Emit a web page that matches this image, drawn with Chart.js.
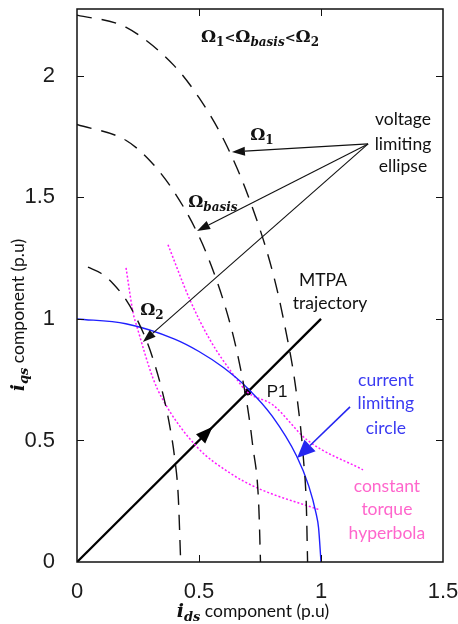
<!DOCTYPE html>
<html>
<head>
<meta charset="utf-8">
<script src="https://cdn.jsdelivr.net/npm/chart.js@4.4.1/dist/chart.umd.min.js"></script>
<style>
  html, body { margin: 0; padding: 0; background: #fff; }
  #wrap { width: 458px; height: 624px; }
</style>
</head>
<body>
<div id="wrap"><canvas id="chart" width="458" height="624"></canvas></div>
<script>
// voltage limiting ellipses, i_ds / i_qs in p.u (omega_1, omega_basis, omega_2)
const ellipse1Ids = [0, 0.2, 0.4, 0.5, 0.6, 0.7, 0.8, 0.85, 0.9, 0.93, 0.94, 0.945];
const ellipse1Iqs = [2.25, 2.2, 2.04, 1.91, 1.74, 1.51, 1.2, 0.98, 0.69, 0.4, 0.23, 0];
const ellipse2Ids = [0, 0.2, 0.3, 0.4, 0.5, 0.55, 0.6, 0.65, 0.7, 0.72, 0.745, 0.752];
const ellipse2Iqs = [1.8, 1.735, 1.65, 1.52, 1.34, 1.22, 1.075, 0.89, 0.63, 0.48, 0.23, 0];
const ellipse3Ids = [0.045, 0.1, 0.15, 0.2, 0.25, 0.3, 0.35, 0.38, 0.4, 0.415, 0.425];
const ellipse3Iqs = [1.213, 1.187, 1.143, 1.08, 0.99, 0.87, 0.7, 0.56, 0.43, 0.27, 0];

// current limiting circle
const circleIds = [0, 0.2, 0.4, 0.5, 0.6, 0.7, 0.8, 0.9, 0.95, 0.98, 0.99, 1.0];
const circleIqs = [1.0, 0.98, 0.917, 0.866, 0.8, 0.714, 0.6, 0.436, 0.312, 0.199, 0.141, 0];

// constant torque hyperbolas
const torqueHiIds = [0.373, 0.463, 0.545, 0.648, 0.697, 0.803, 0.943, 1.172];
const torqueHiIqs = [1.305, 1.078, 0.914, 0.761, 0.7, 0.646, 0.502, 0.379];
const torqueLoIds = [0.201, 0.23, 0.246, 0.311, 0.352, 0.492, 0.627, 0.738, 0.996];
const torqueLoIqs = [1.21, 1.025, 0.967, 0.757, 0.667, 0.473, 0.366, 0.305, 0.214];

// MTPA trajectory and operating point P1
const mtpaIds = [0, 1];
const mtpaIqs = [0, 1];
const p1Ids = [0.7];
const p1Iqs = [0.7];

const xTicks = [0, 0.5, 1, 1.5];
const yTicks = [0, 0.5, 1, 1.5, 2];

const toPoints = (xs, ys) => xs.map((x, i) => ({ x: x, y: ys[i] }));

const CALIBRI = 'Lato, "Open Sans", sans-serif';
const SERIF = '"DejaVu Serif", "Liberation Serif", serif';
const ARIAL = '"Liberation Sans", Arial, sans-serif';

function drawRuns(ctx, runs, cx, baseY, color) {
    ctx.save();
    ctx.fillStyle = color;
    ctx.textBaseline = 'alphabetic';
    ctx.textAlign = 'left';
    let total = 0;
    runs.forEach(r => { ctx.font = r.font; r.w = ctx.measureText(r.text).width; total += r.w; });
    let x = cx - total / 2;
    runs.forEach(r => {
        ctx.font = r.font;
        ctx.fillText(r.text, x, baseY + (r.dy || 0));
        x += r.w;
    });
    ctx.restore();
}

function label(ctx, text, cx, cy, font, color) {
    ctx.save();
    ctx.font = font;
    ctx.fillStyle = color;
    ctx.textAlign = 'center';
    ctx.textBaseline = 'middle';
    ctx.fillText(text, cx, cy);
    ctx.restore();
}

function arrow(ctx, x0, y0, x1, y1, color, width, headLen, headHalf) {
    const ang = Math.atan2(y1 - y0, x1 - x0);
    const bx = x1 - headLen * Math.cos(ang);
    const by = y1 - headLen * Math.sin(ang);
    ctx.save();
    ctx.strokeStyle = color;
    ctx.fillStyle = color;
    if (width > 0) {
        ctx.lineWidth = width;
        ctx.beginPath();
        ctx.moveTo(x0, y0);
        ctx.lineTo(bx, by);
        ctx.stroke();
    }
    ctx.beginPath();
    ctx.moveTo(x1, y1);
    ctx.lineTo(bx + headHalf * Math.sin(ang), by - headHalf * Math.cos(ang));
    ctx.lineTo(bx - headHalf * Math.sin(ang), by + headHalf * Math.cos(ang));
    ctx.closePath();
    ctx.fill();
    ctx.restore();
}

// frame with inward ticks on all four sides, plus the annotations
const decorations = {
    id: 'decorations',
    afterDatasetsDraw(chart) {
        const ctx = chart.ctx;
        const area = chart.chartArea;
        const sx = chart.scales.x;
        const sy = chart.scales.y;
        const px = v => sx.getPixelForValue(v);
        const py = v => sy.getPixelForValue(v);

        ctx.save();
        ctx.strokeStyle = '#111';
        ctx.lineWidth = 1.5;
        ctx.strokeRect(area.left, area.top, area.right - area.left, area.bottom - area.top);
        ctx.lineWidth = 1;
        ctx.beginPath();
        xTicks.slice(1, -1).forEach(v => {
            const x = Math.round(px(v)) + 0.5;
            ctx.moveTo(x, area.bottom); ctx.lineTo(x, area.bottom - 7);
            ctx.moveTo(x, area.top); ctx.lineTo(x, area.top + 7);
        });
        yTicks.slice(1).forEach(v => {
            const y = Math.round(py(v)) + 0.5;
            ctx.moveTo(area.left, y); ctx.lineTo(area.left + 7, y);
            ctx.moveTo(area.right, y); ctx.lineTo(area.right - 7, y);
        });
        ctx.stroke();
        ctx.restore();

        // MTPA direction arrow head
        arrow(ctx, px(0.45), py(0.45), px(0.556), py(0.556), '#000', 0, 17, 6.5);

        // voltage limiting ellipse pointers
        const src = [px(1.193), py(1.72)];
        arrow(ctx, src[0], src[1], px(0.635), py(1.687), '#111', 1.1, 13, 4.5);
        arrow(ctx, src[0], src[1], px(0.492), py(1.362), '#111', 1.1, 13, 4.5);
        arrow(ctx, src[0], src[1], px(0.27), py(0.905), '#111', 1.1, 13, 4.5);

        // current limiting circle pointer
        arrow(ctx, px(1.119), py(0.638), px(0.902), py(0.428), '#2626f0', 1.6, 18, 8);

        const ob = 'bold 17px ' + SERIF;
        const subB = 'bold 12px ' + SERIF;
        const subBI = 'italic bold 12px ' + SERIF;
        const lt = { text: '<', font: 'bold 13px ' + SERIF };
        drawRuns(ctx, [
            { text: 'Ω', font: ob }, { text: '1', font: subB, dy: 4 }, lt,
            { text: 'Ω', font: ob }, { text: 'basis', font: subBI, dy: 4 }, lt,
            { text: 'Ω', font: ob }, { text: '2', font: subB, dy: 4 }
        ], px(0.75), py(2.165) + 6, '#111');
        drawRuns(ctx, [{ text: 'Ω', font: ob }, { text: '1', font: subB, dy: 4 }],
            px(0.758), py(1.757) + 5, '#111');
        drawRuns(ctx, [{ text: 'Ω', font: ob }, { text: 'basis', font: subBI, dy: 4 }],
            px(0.557), py(1.481) + 5, '#111');
        drawRuns(ctx, [{ text: 'Ω', font: ob }, { text: '2', font: subB, dy: 4 }],
            px(0.307), py(1.037) + 5, '#111');

        const cal = '17.5px ' + CALIBRI;
        label(ctx, 'voltage', px(1.336), py(1.819), cal, '#111');
        label(ctx, 'limiting', px(1.336), py(1.72), cal, '#111');
        label(ctx, 'ellipse', px(1.336), py(1.626), cal, '#111');
        label(ctx, 'MTPA', px(1.008), py(1.16), cal, '#111');
        label(ctx, 'trajectory', px(1.037), py(1.066), cal, '#111');
        label(ctx, 'P1', px(0.82), py(0.7), '17px ' + ARIAL, '#111');

        const blue = '#3b3bf2';
        label(ctx, 'current', px(1.266), py(0.749), cal, blue);
        label(ctx, 'limiting', px(1.266), py(0.654), cal, blue);
        label(ctx, 'circle', px(1.266), py(0.551), cal, blue);
        const pink = '#ff66cc';
        label(ctx, 'constant', px(1.27), py(0.313), cal, pink);
        label(ctx, 'torque', px(1.27), py(0.218), cal, pink);
        label(ctx, 'hyperbola', px(1.27), py(0.119), cal, pink);

        // axis titles
        const titleRuns = sub => [
            { text: 'i', font: 'italic bold 19px ' + SERIF },
            { text: sub, font: 'italic bold 13px ' + SERIF, dy: 4 },
            { text: ' component (p.u)', font: '17.5px ' + CALIBRI }
        ];
        drawRuns(ctx, titleRuns('ds'), area.left + 176, area.bottom + 55, '#111');
        ctx.save();
        ctx.translate(area.left - 53, area.top + 306);
        ctx.rotate(-Math.PI / 2);
        drawRuns(ctx, titleRuns('qs'), 0, 0, '#111');
        ctx.restore();
    }
};

// keep the plot box where the layout padding puts it
const fixBox = (s, prop, size) => {
    s[prop] = size;
    s.paddingTop = 0; s.paddingBottom = 0; s.paddingLeft = 0; s.paddingRight = 0;
};

const dashed = { borderColor: '#111', borderWidth: 1.4, borderDash: [15, 10] };
const dotted = { borderColor: '#ff1aff', borderWidth: 1.5, borderDash: [2, 2] };

new Chart(document.getElementById('chart'), {
    type: 'line',
    data: {
        datasets: [
            Object.assign({ data: toPoints(ellipse1Ids, ellipse1Iqs) }, dashed),
            Object.assign({ data: toPoints(ellipse2Ids, ellipse2Iqs) }, dashed),
            Object.assign({ data: toPoints(ellipse3Ids, ellipse3Iqs) }, dashed),
            { data: toPoints(circleIds, circleIqs), borderColor: '#1f1fff', borderWidth: 1.4 },
            Object.assign({ data: toPoints(torqueHiIds, torqueHiIqs) }, dotted),
            Object.assign({ data: toPoints(torqueLoIds, torqueLoIqs) }, dotted),
            { data: toPoints(mtpaIds, mtpaIqs), borderColor: '#000', borderWidth: 2.3, cubicInterpolationMode: 'default', tension: 0 },
            { data: toPoints(p1Ids, p1Iqs), showLine: false, pointRadius: 3.2, pointBackgroundColor: '#000', pointBorderColor: '#000' }
        ]
    },
    options: {
        responsive: false,
        animation: false,
        events: [],
        elements: {
            point: { radius: 0 },
            line: { cubicInterpolationMode: 'monotone', fill: false }
        },
        layout: { padding: { top: 9, right: 15, left: 0, bottom: 0 } },
        plugins: { legend: { display: false }, tooltip: { enabled: false } },
        scales: {
            x: {
                type: 'linear',
                min: 0,
                max: 1.5,
                afterFit: s => fixBox(s, 'height', 62),
                grid: { display: false },
                border: { display: false },
                ticks: {
                    stepSize: 0.5,
                    includeBounds: false,
                    maxRotation: 0,
                    padding: 9,
                    color: '#1c1c1c',
                    font: { family: ARIAL, size: 22 },
                    callback: v => String(v)
                }
            },
            y: {
                type: 'linear',
                min: 0,
                max: 2.275,
                afterFit: s => fixBox(s, 'width', 77),
                grid: { display: false },
                border: { display: false },
                ticks: {
                    stepSize: 0.5,
                    includeBounds: false,
                    padding: 14,
                    color: '#1c1c1c',
                    font: { family: ARIAL, size: 22 },
                    callback: v => String(v)
                }
            }
        }
    },
    plugins: [decorations]
});
</script>
</body>
</html>
